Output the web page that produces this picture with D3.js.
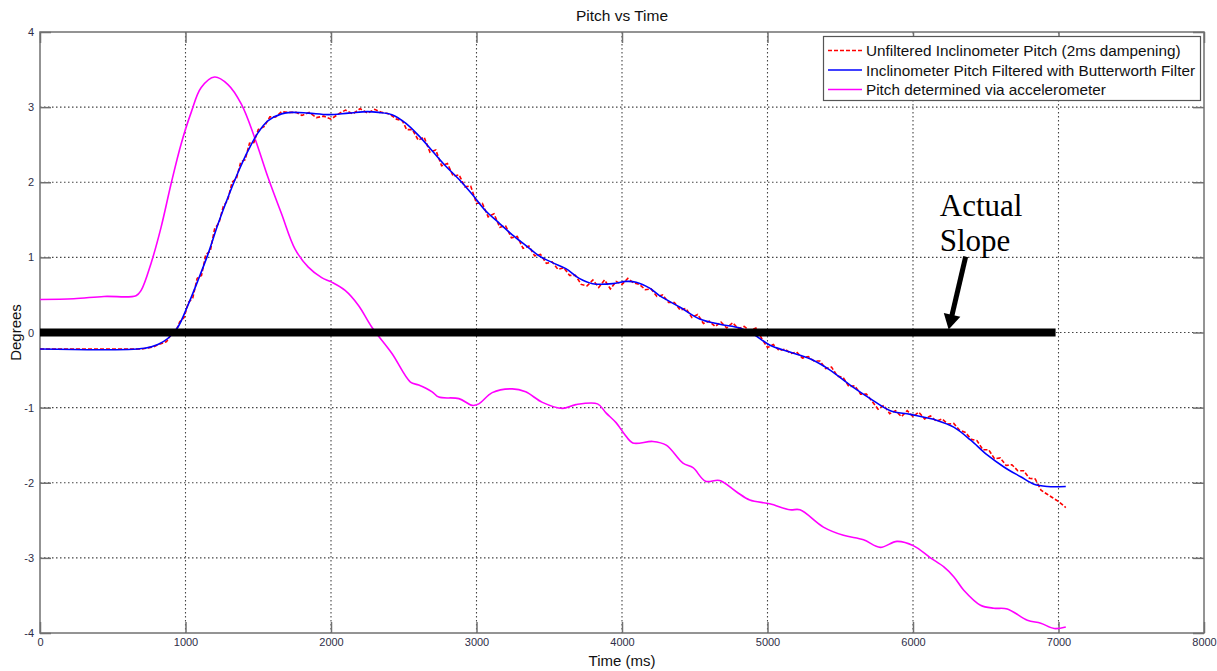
<!DOCTYPE html>
<html><head><meta charset="utf-8">
<script src="https://cdn.jsdelivr.net/npm/d3@7/dist/d3.min.js"></script>
<style>body{margin:0;background:#fff}svg{display:block}</style>
</head><body>
<svg id="c" width="1217" height="671"></svg>
<script>
const xTicks = [0,1000,2000,3000,4000,5000,6000,7000,8000];
const yTicks = [-4,-3,-2,-1,0,1,2,3,4];
const seriesNames = ["Unfiltered Inclinometer Pitch (2ms dampening)","Inclinometer Pitch Filtered with Butterworth Filter","Pitch determined via accelerometer"];

const redT = [
 0,700,780,830,870,900,930,960,990,1020,
 1050,1080,1110,1140,1170,1200,1230,1260,1290,1320,
 1350,1380,1410,1440,1470,1500,1540,1580,1620,1660,
 1700,1760,1800,1850,1900,1950,2000,2060,2100,2150,
 2200,2250,2300,2350,2400,2450,2490,2520,2560,2600,
 2640,2680,2720,2760,2800,2840,2880,2920,2960,3000,
 3040,3080,3120,3160,3200,3240,3280,3320,3360,3400,
 3440,3480,3520,3560,3600,3640,3680,3720,3760,3800,
 3840,3880,3920,3960,4000,4040,4080,4120,4160,4200,
 4240,4280,4320,4360,4400,4440,4480,4520,4560,4600,
 4640,4680,4720,4760,4800,4840,4880,4920,4960,5000,
 5040,5080,5120,5160,5200,5240,5280,5320,5360,5400,
 5440,5480,5520,5560,5600,5640,5680,5720,5760,5800,
 5840,5880,5920,5960,6000,6040,6080,6120,6160,6200,
 6240,6280,6320,6360,6400,6440,6480,6520,6560,6600,
 6640,6680,6720,6760,6800,6840,6880,6920,6960,7000,
 7050];
const redV = [
 -0.22,-0.22,-0.19,-0.15,-0.12,-0.03,0.00,0.14,0.20,0.40,
 0.46,0.72,0.76,1.04,1.08,1.38,1.46,1.68,1.76,2.00,
 2.05,2.27,2.30,2.52,2.53,2.70,2.74,2.87,2.87,2.94,
 2.93,2.93,2.89,2.93,2.86,2.88,2.84,2.92,2.96,2.91,
 2.98,2.92,2.97,2.93,2.91,2.84,2.82,2.70,2.70,2.56,
 2.60,2.40,2.43,2.22,2.25,2.08,2.10,1.94,1.95,1.72,
 1.72,1.54,1.58,1.40,1.42,1.26,1.28,1.12,1.15,1.02,
 1.04,0.92,0.94,0.84,0.86,0.76,0.76,0.64,0.62,0.70,
 0.60,0.70,0.58,0.68,0.64,0.72,0.66,0.64,0.57,0.58,
 0.48,0.50,0.40,0.40,0.30,0.32,0.20,0.24,0.12,0.15,
 0.08,0.14,0.06,0.13,0.05,0.08,0.02,0.06,-0.08,-0.20,
 -0.16,-0.24,-0.22,-0.28,-0.26,-0.34,-0.32,-0.38,-0.38,-0.48,
 -0.46,-0.58,-0.60,-0.72,-0.71,-0.82,-0.82,-0.92,-1.02,-0.97,
 -1.08,-1.04,-1.12,-1.04,-1.12,-1.06,-1.15,-1.11,-1.18,-1.15,
 -1.22,-1.21,-1.30,-1.33,-1.42,-1.44,-1.56,-1.56,-1.68,-1.67,
 -1.77,-1.76,-1.84,-1.84,-1.94,-1.95,-2.10,-2.15,-2.20,-2.25,
 -2.33];

const blueT = [0,719,810,878,947,1016,1085,1154,1223,1292,1361,1430,1499,1568,1660,1729,1844,1982,2120,2250,2327,2419,2511,2603,2695,2786,2879,2970,3062,3154,3246,3338,3430,3522,3614,3706,3798,3936,4028,4097,4190,4258,4396,4534,4672,4810,4902,5017,5154,5292,5430,5568,5706,5844,5982,6166,6280,6395,6510,6625,6740,6832,6924,7050];
const blueV = [-0.22,-0.21,-0.16,-0.08,0.07,0.36,0.69,1.04,1.44,1.80,2.13,2.42,2.66,2.82,2.91,2.93,2.92,2.90,2.92,2.94,2.93,2.90,2.79,2.62,2.42,2.22,2.04,1.84,1.62,1.46,1.30,1.16,1.02,0.93,0.85,0.72,0.65,0.65,0.68,0.67,0.59,0.49,0.34,0.18,0.11,0.06,-0.02,-0.17,-0.26,-0.35,-0.50,-0.70,-0.88,-1.04,-1.09,-1.17,-1.26,-1.43,-1.63,-1.79,-1.92,-2.02,-2.05,-2.05];

const magT = [0,232,440,660,695,763,832,901,970,1039,1108,1200,1292,1384,1476,1568,1660,1753,1844,1936,2005,2097,2189,2281,2419,2546,2603,2695,2741,2879,2970,3016,3108,3246,3338,3453,3591,3683,3832,3890,3959,4016,4074,4212,4304,4419,4488,4574,4671,4786,4878,5016,5154,5223,5384,5522,5660,5775,5890,6005,6120,6212,6280,6349,6464,6556,6648,6786,6878,6970,7050];
const magV = [0.44,0.45,0.48,0.49,0.56,0.92,1.40,1.98,2.51,2.93,3.26,3.40,3.30,3.04,2.59,2.06,1.58,1.11,0.87,0.73,0.67,0.56,0.36,0.07,-0.28,-0.66,-0.70,-0.79,-0.86,-0.88,-0.97,-0.95,-0.80,-0.75,-0.79,-0.93,-1.01,-0.96,-0.95,-1.07,-1.20,-1.35,-1.47,-1.45,-1.50,-1.74,-1.80,-1.98,-1.97,-2.12,-2.23,-2.28,-2.36,-2.36,-2.59,-2.70,-2.76,-2.86,-2.78,-2.84,-3.00,-3.12,-3.25,-3.43,-3.63,-3.67,-3.68,-3.83,-3.87,-3.94,-3.92];

const slopeT = [0,6980];
const slopeV = [0,0];
const annotText = ["Actual","Slope"];
const annotPos = [[6184,1.55],[6184,1.09]];
const arrowFrom = [6362,1.01];
const arrowTo = [6245,0.04];

const svg = d3.select("#c");
const L=40, R=1204, T=32, B=633;
const x = d3.scaleLinear().domain([0,8000]).range([L,R]);
const y = d3.scaleLinear().domain([-4,4]).range([B,T]);
const font = "Liberation Sans, Arial, sans-serif";

// grid
const g = svg.append("g");
g.selectAll(".gx").data(xTicks.slice(1,-1)).join("line")
 .attr("x1",d=>x(d)).attr("x2",d=>x(d)).attr("y1",T).attr("y2",B)
 .attr("stroke","#444").attr("stroke-width",1.1).attr("stroke-dasharray","1.5,2.5");
g.selectAll(".gy").data(yTicks.slice(1,-1)).join("line")
 .attr("y1",d=>y(d)).attr("y2",d=>y(d)).attr("x1",L).attr("x2",R)
 .attr("stroke","#444").attr("stroke-width",1.1).attr("stroke-dasharray","1.5,2.5");

// axes
const fmt = d=>String(d);
const axB = d3.axisBottom(x).tickValues(xTicks).tickSize(-11).tickPadding(5).tickFormat(fmt);
const axT = d3.axisTop(x).tickValues(xTicks).tickSize(-11).tickFormat("");
const axL = d3.axisLeft(y).tickValues(yTicks).tickSize(-11).tickPadding(6).tickFormat(fmt);
const axR = d3.axisRight(y).tickValues(yTicks).tickSize(-11).tickFormat("");
function style(sel){
  sel.select(".domain").remove();
  sel.selectAll("line").attr("stroke","#707070").attr("stroke-width",1.5);
  sel.selectAll("text").attr("font-family",font).attr("font-size",11).attr("fill","#2e2e48");
}
svg.append("g").attr("transform",`translate(0,${B})`).call(axB).call(style);
svg.append("g").attr("transform",`translate(0,${T})`).call(axT).call(style);
svg.append("g").attr("transform",`translate(${L},0)`).call(axL).call(style);
svg.append("g").attr("transform",`translate(${R},0)`).call(axR).call(style);
svg.append("rect").attr("x",L).attr("y",T).attr("width",R-L).attr("height",B-T)
 .attr("fill","none").attr("stroke","#707070").attr("stroke-width",1.5);

// lines
svg.append("defs").append("clipPath").attr("id","pc").append("rect")
 .attr("x",L).attr("y",T).attr("width",R-L).attr("height",B-T);
const lineCR = d3.line().x(d=>x(d[0])).y(d=>y(d[1])).curve(d3.curveCatmullRom.alpha(0.5));
const lineLin = d3.line().x(d=>x(d[0])).y(d=>y(d[1]));
const P = svg.append("g").attr("clip-path","url(#pc)");
P.append("path").datum(magT.map((t,i)=>[t,magV[i]])).attr("d",lineCR)
 .attr("fill","none").attr("stroke","#ff00ff").attr("stroke-width",1.6);
P.append("path").datum(redT.map((t,i)=>[t,redV[i]])).attr("d",lineLin)
 .attr("fill","none").attr("stroke","#ff0000").attr("stroke-width",1.6).attr("stroke-dasharray","4,2");
P.append("path").datum(blueT.map((t,i)=>[t,blueV[i]])).attr("d",lineCR)
 .attr("fill","none").attr("stroke","#0000ff").attr("stroke-width",1.6);
P.append("path").datum(slopeT.map((t,i)=>[t,slopeV[i]])).attr("d",lineLin)
 .attr("fill","none").attr("stroke","#000").attr("stroke-width",8);

// annotation
const serif = "Liberation Serif, Times New Roman, serif";
svg.selectAll(".ann").data(annotText).join("text")
 .attr("x",(d,i)=>x(annotPos[i][0])).attr("y",(d,i)=>y(annotPos[i][1]))
 .attr("font-family",serif).attr("font-size",31).attr("fill","#000").text(d=>d);
{
  const x0=x(arrowFrom[0]), y0=y(arrowFrom[1]), x1=x(arrowTo[0]), y1=y(arrowTo[1]);
  const dx=x1-x0, dy=y1-y0, len=Math.hypot(dx,dy), ux=dx/len, uy=dy/len;
  const hl=15, hw=8.5;
  const bx=x1-ux*hl, by=y1-uy*hl;
  svg.append("line").attr("x1",x0).attr("y1",y0).attr("x2",bx+ux*2).attr("y2",by+uy*2)
   .attr("stroke","#000").attr("stroke-width",5);
  svg.append("path").attr("d",`M${x1},${y1}L${bx-uy*hw},${by+ux*hw}L${bx+uy*hw},${by-ux*hw}Z`).attr("fill","#000");
}

// legend
const lg = svg.append("g");
lg.append("rect").attr("x",823.5).attr("y",36.5).attr("width",377).attr("height",64)
 .attr("fill","#fff").attr("stroke","#555").attr("stroke-width",1.2);
const lcol = ["#ff0000","#0000ff","#ff00ff"];
const ldash = ["4,2",null,null];
seriesNames.forEach((s,i)=>{
  const yy = 50.5 + i*19.5;
  lg.append("line").attr("x1",828).attr("x2",862).attr("y1",yy).attr("y2",yy)
   .attr("stroke",lcol[i]).attr("stroke-width",1.6).attr("stroke-dasharray",ldash[i]);
  lg.append("text").attr("x",866).attr("y",yy).attr("dy","0.36em")
   .attr("font-family",font).attr("font-size",15.3).attr("fill","#111").text(s);
});

// titles
svg.append("text").attr("x",(L+R)/2).attr("y",21).attr("text-anchor","middle")
 .attr("font-family",font).attr("font-size",15.5).attr("fill","#111").text("Pitch vs Time");
svg.append("text").attr("x",(L+R)/2).attr("y",666).attr("text-anchor","middle")
 .attr("font-family",font).attr("font-size",15).attr("fill","#111").text("Time (ms)");
svg.append("text").attr("transform",`translate(21,${(T+B)/2}) rotate(-90)`).attr("text-anchor","middle")
 .attr("font-family",font).attr("font-size",15).attr("fill","#111").text("Degrees");
</script>
</body></html>
